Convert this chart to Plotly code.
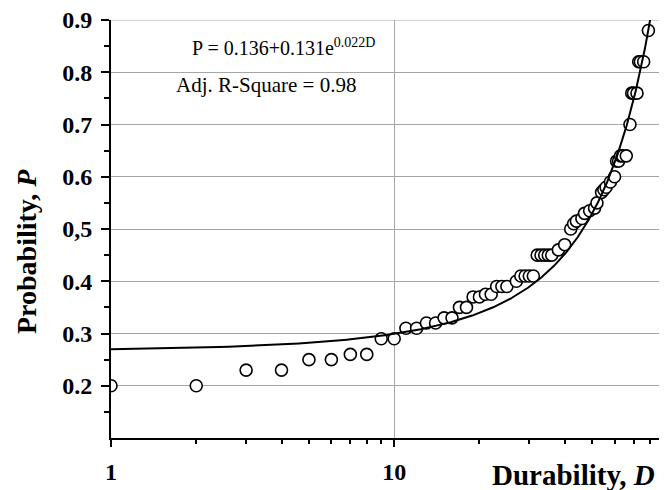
import numpy as np
import plotly.graph_objects as go

# ---- data ----
durability = [1, 2, 3, 4, 5, 6, 7, 8, 9, 10, 11, 12, 13, 14, 15, 16, 17, 18, 19, 20,
              21, 22, 23, 24, 25, 27, 28, 29, 30, 31, 32, 33, 34, 35, 36, 38, 40, 42,
              43, 44, 46, 47, 49, 51, 52, 54, 55, 56, 58, 60, 61, 62, 63, 64, 66, 68,
              69, 70, 72, 73, 74, 76, 79]
probability = [0.20, 0.20, 0.23, 0.23, 0.25, 0.25, 0.26, 0.26, 0.29, 0.29, 0.31, 0.31,
               0.32, 0.32, 0.33, 0.33, 0.35, 0.35, 0.37, 0.37, 0.375, 0.375, 0.39, 0.39,
               0.39, 0.40, 0.41, 0.41, 0.41, 0.41, 0.45, 0.45, 0.45, 0.45, 0.45, 0.46,
               0.47, 0.50, 0.51, 0.515, 0.52, 0.53, 0.535, 0.54, 0.55, 0.57, 0.575, 0.58,
               0.59, 0.60, 0.63, 0.63, 0.64, 0.64, 0.64, 0.70, 0.76, 0.76, 0.76, 0.82,
               0.82, 0.82, 0.88]

# fitted model shown on the chart: P = A + B*exp(K*D)
FIT_A = 0.136
FIT_B = 0.131
FIT_K = 0.022
fit_d = np.linspace(1, 81, 400)
fit_p = FIT_A + FIT_B * np.exp(FIT_K * fit_d)

y_tickvals = [0.2, 0.3, 0.4, 0.5, 0.6, 0.7, 0.8, 0.9]
y_ticktext = ["0.2", "0.3", "0.4", "0,5", "0.6", "0.7", "0.8", "0.9"]
y_minor = [0.15, 0.25, 0.35, 0.45, 0.55, 0.65, 0.75, 0.85]
x_tickvals = [1, 10]
x_ticktext = ["1", "10"]
x_minor = [2, 3, 4, 5, 6, 7, 8, 9, 20, 30, 40, 50, 60, 70, 80, 90]

FONT = "Liberation Serif"
GRID = "#a6a6a6"

# page has an 8px body margin, so the figure is sized to fit the window
W, H = 659, 482
ML, MT, MB = 103, 12, 52

fig = go.Figure()
fig.add_trace(go.Scatter(
    x=durability, y=probability, mode="markers",
    marker=dict(symbol="circle", size=12, color="white",
                line=dict(color="black", width=1.6)),
    showlegend=False))
fig.add_trace(go.Scatter(
    x=fit_d, y=fit_p, mode="lines",
    line=dict(color="black", width=2), showlegend=False))

fig.update_layout(
    width=W, height=H,
    margin=dict(l=ML, r=0, t=MT, b=MB),
    paper_bgcolor="white", plot_bgcolor="white",
    font=dict(family=FONT, color="black"),
    xaxis=dict(
        type="log", range=[0, np.log10(91.9)],
        tickmode="array", tickvals=x_tickvals, ticktext=x_ticktext,
        ticks="outside", ticklen=7, tickwidth=1.5, tickcolor="black",
        ticklabelstandoff=4, ticklabeloverflow="allow",
        tickfont=dict(family=FONT, size=24, color="black", weight="bold"),
        showgrid=True, gridcolor=GRID, gridwidth=1,
        showline=True, linecolor="black", linewidth=2,
        zeroline=False,
        minor=dict(tickmode="array", tickvals=x_minor, ticks="outside",
                   ticklen=4, tickwidth=1.5, tickcolor="black", showgrid=False),
    ),
    yaxis=dict(
        range=[0.1, 0.9],
        tickmode="array", tickvals=y_tickvals, ticktext=y_ticktext,
        ticks="outside", ticklen=8, tickwidth=1.5, tickcolor="black",
        ticklabelstandoff=4, ticklabeloverflow="allow",
        tickfont=dict(family=FONT, size=24, color="black", weight="bold"),
        showgrid=True, gridcolor=GRID, gridwidth=1,
        showline=True, linecolor="black", linewidth=2,
        zeroline=False,
        minor=dict(tickmode="array", tickvals=y_minor, ticks="outside",
                   ticklen=5, tickwidth=1.5, tickcolor="black", showgrid=False),
    ),
)

# top gridline (plotly skips gridlines at the range edge)
fig.add_shape(type="line", xref="paper", x0=0, x1=1, yref="y",
              y0=y_tickvals[-1], y1=y_tickvals[-1],
              line=dict(color=GRID, width=1), layer="below")

pw = W - ML
ph = H - MT - MB


def px(xp):
    # xp: page pixel (window coords)
    return (xp - 8 - ML) / pw


def py(yp):
    return (H - MB - (yp - 8)) / ph


fig.add_annotation(
    text="<b>Durability, <i>D</i></b>", xref="paper", yref="paper",
    x=px(657), y=py(475), xanchor="right", yanchor="middle", showarrow=False,
    font=dict(family=FONT, size=29, color="black"))
fig.add_annotation(
    text="<b>Probability, <i>P</i></b>", xref="paper", yref="paper",
    x=px(26), y=py(252), xanchor="center", yanchor="middle", textangle=-90,
    showarrow=False, font=dict(family=FONT, size=28, color="black"))
fig.add_annotation(
    text="P = 0.136+0.131e<sup>0.022D</sup>", xref="paper", yref="paper",
    x=px(190), y=py(47), xanchor="left", yanchor="middle", showarrow=False,
    font=dict(family=FONT, size=20, color="black"))
fig.add_annotation(
    text="Adj. R-Square = 0.98", xref="paper", yref="paper",
    x=px(174), y=py(85), xanchor="left", yanchor="middle", showarrow=False,
    font=dict(family=FONT, size=21, color="black"))

fig.write_html("out.html")
